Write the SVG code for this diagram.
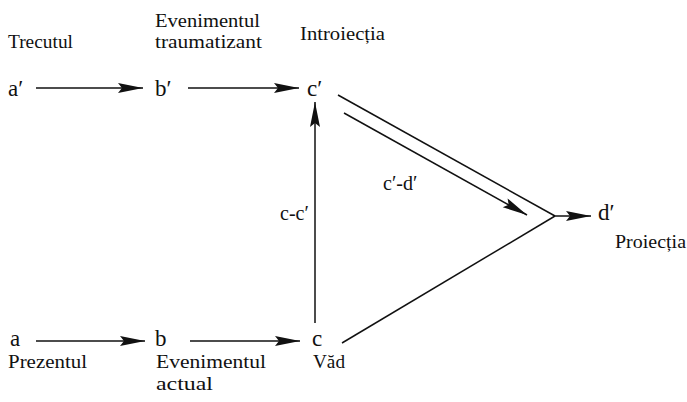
<svg xmlns="http://www.w3.org/2000/svg" width="687" height="402" viewBox="0 0 687 402">
<style>
.lbl{font-family:'Liberation Serif','DejaVu Serif',serif;font-size:18px;fill:#111}
.var{font-family:'Liberation Serif','DejaVu Serif',serif;font-size:23px;fill:#111}
.ln{stroke:#111;stroke-width:1.5;fill:none}
</style>
<defs>
<marker id="ah" markerUnits="userSpaceOnUse" markerWidth="30" markerHeight="14" viewBox="-28 -7 30 14" refX="0" refY="0" orient="auto">
<path d="M0,0 L-25,-5 L-21,0 L-25,5 Z" fill="#111"/>
</marker>
</defs>
<rect width="687" height="402" fill="#fff"/>
<g id="labels">
<text class="lbl" x="8" y="48" textLength="65" lengthAdjust="spacingAndGlyphs">Trecutul</text>
<text class="lbl" x="155" y="27" textLength="105" lengthAdjust="spacingAndGlyphs">Evenimentul</text>
<text class="lbl" x="155" y="48" textLength="107" lengthAdjust="spacingAndGlyphs">traumatizant</text>
<text class="lbl" x="300" y="40" textLength="85" lengthAdjust="spacingAndGlyphs">Introiecția</text>
<text class="lbl" x="8" y="368" textLength="79" lengthAdjust="spacingAndGlyphs">Prezentul</text>
<text class="lbl" x="156" y="368" textLength="110" lengthAdjust="spacingAndGlyphs">Evenimentul</text>
<text class="lbl" x="156" y="390" textLength="57" lengthAdjust="spacingAndGlyphs">actual</text>
<text class="lbl" x="313" y="368" textLength="32" lengthAdjust="spacingAndGlyphs">Văd</text>
<text class="lbl" x="615" y="248" textLength="71" lengthAdjust="spacingAndGlyphs">Proiecția</text>
</g>
<g id="node-a1"><text class="var" x="8" y="96">a′</text></g>
<g id="node-b1"><text class="var" x="155" y="96">b′</text></g>
<g id="node-c1"><text class="var" x="307" y="96">c′</text></g>
<g id="node-a"><text class="var" x="10" y="346">a</text></g>
<g id="node-b"><text class="var" x="155" y="346">b</text></g>
<g id="node-c"><text class="var" x="312" y="346">c</text></g>
<g id="node-d1"><text class="var" x="598" y="220">d′</text></g>
<g id="connectors">
<line class="ln" x1="36" y1="88" x2="143" y2="88" marker-end="url(#ah)"/>
<line class="ln" x1="188" y1="88" x2="299" y2="88" marker-end="url(#ah)"/>
<line class="ln" x1="36" y1="341" x2="145" y2="341" marker-end="url(#ah)"/>
<line class="ln" x1="190" y1="341" x2="300" y2="341" marker-end="url(#ah)"/>
<line class="ln" x1="315" y1="323" x2="315" y2="102" marker-end="url(#ah)"/>
<line class="ln" x1="338" y1="95" x2="555" y2="216"/>
<line class="ln" x1="342" y1="343" x2="555" y2="216"/>
<line class="ln" x1="344" y1="113" x2="527" y2="215" marker-end="url(#ah)"/>
<line class="ln" x1="555" y1="216" x2="591" y2="216" marker-end="url(#ah)"/>
<text class="var" x="383" y="190" style="font-size:20px">c′-d′</text>
<text class="var" x="280" y="220" style="font-size:20px">c-c′</text>
</g>
</svg>
